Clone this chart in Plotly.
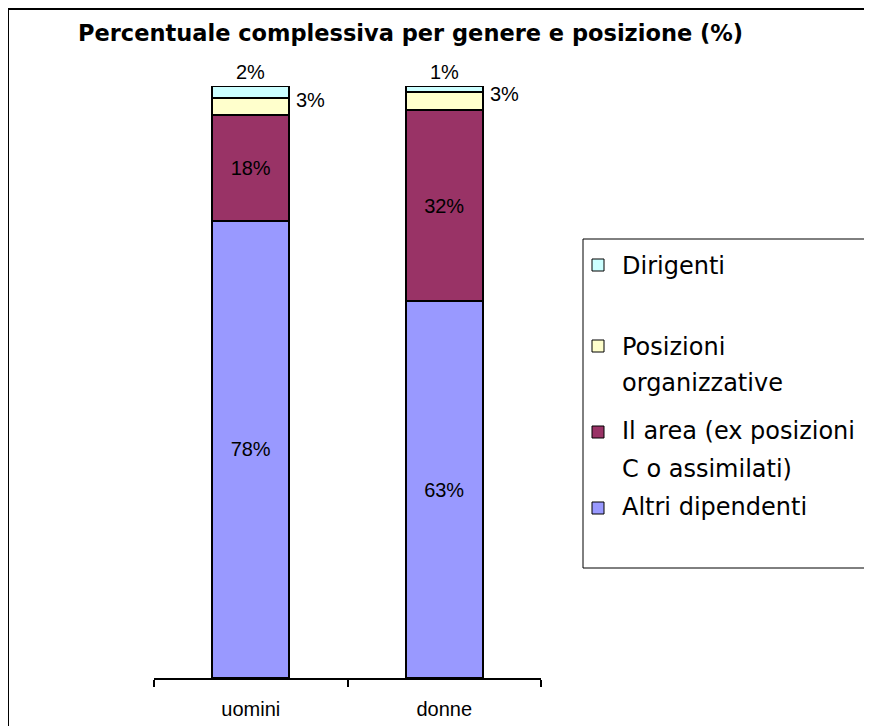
import plotly.graph_objects as go

# ---- data ----
categories = ["uomini", "donne"]
series_names = ["Altri dipendenti", "II area (ex posizioni C o assimilati)",
                "Posizioni organizzative", "Dirigenti"]
altri = [78, 63]
area2 = [18, 32]
posizioni = [3, 3]
dirigenti = [2, 1]
legend_lines = {
    "Dirigenti": ["Dirigenti"],
    "Posizioni organizzative": ["Posizioni", "organizzative"],
    "II area (ex posizioni C o assimilati)": ["Il area (ex posizioni", "C o assimilati)"],
    "Altri dipendenti": ["Altri dipendenti"],
}
title_text = "Percentuale complessiva per genere e posizione (%)"

colors = {
    "Altri dipendenti": "#9999FF",
    "II area (ex posizioni C o assimilati)": "#993366",
    "Posizioni organizzative": "#FFFFCC",
    "Dirigenti": "#CCFFFF",
}

# ---- layout geometry (screen coords, page body has an 8px margin) ----
OFF = 8
W, H = 872, 726
PLOT_L, PLOT_R, PLOT_T, PLOT_B = 154, 541, 86, 678   # screen pixels
ML = PLOT_L - OFF
MT = PLOT_T - OFF
PW = PLOT_R - PLOT_L
PH = PLOT_B - PLOT_T
MR = W - ML - PW
MB = H - MT - PH


def px(x):
    return (x - PLOT_L) / PW


def py(y):
    return (PLOT_B - y) / PH


LBL_FONT = dict(family="Liberation Sans, Arial, sans-serif", size=20, color="black")
LEG_FONT = dict(family="DejaVu Sans, sans-serif", size=24, color="black")

series_values = [altri, area2, posizioni, dirigenti]

fig = go.Figure()
for name, vals in zip(series_names, series_values):
    inside = name in ("Altri dipendenti", "II area (ex posizioni C o assimilati)")
    fig.add_trace(go.Bar(
        x=categories, y=vals, name=name,
        marker=dict(color=colors[name], line=dict(color="black", width=2)),
        text=[f"{v}%" for v in vals] if inside else None,
        textposition="inside" if inside else "none",
        insidetextanchor="middle",
        textangle=0,
        textfont=LBL_FONT,
        showlegend=False,
    ))

annotations = []
# outside labels for the small segments
for i, cat in enumerate(categories):
    total = altri[i] + area2[i] + posizioni[i] + dirigenti[i]
    base_pos = (altri[i] + area2[i]) / total * 100
    mid_pos = base_pos + posizioni[i] / total * 100 / 2
    annotations.append(dict(
        x=i, y=100, xref="x", yref="y", text=f"{dirigenti[i]}%",
        showarrow=False, xanchor="center", yanchor="bottom", yshift=1,
        font=LBL_FONT))
    annotations.append(dict(
        x=i + 0.2, y=mid_pos, xref="x", yref="y", text=f"{posizioni[i]}%",
        showarrow=False, xanchor="left", yanchor="middle", xshift=5, yshift=7,
        font=LBL_FONT))

# title
annotations.append(dict(
    x=px(76), y=py(33), xref="paper", yref="paper", text=f"<b>{title_text}</b>",
    showarrow=False, xanchor="left", yanchor="middle",
    font=dict(family="DejaVu Sans, sans-serif", size=22.5, color="black")))

shapes = []
# outer chart border
shapes.append(dict(type="rect", xref="paper", yref="paper",
                   x0=px(8), x1=px(900), y0=py(760), y1=py(9),
                   line=dict(color="black", width=2), fillcolor="rgba(0,0,0,0)"))
# legend box
shapes.append(dict(type="rect", xref="paper", yref="paper",
                   x0=px(583), x1=px(900), y0=py(568), y1=py(239),
                   line=dict(color="black", width=1), fillcolor="white"))

leg_order = ["Dirigenti", "Posizioni organizzative",
             "II area (ex posizioni C o assimilati)", "Altri dipendenti"]
sq_top = [259, 340, 426, 502]
line_ys = [[266], [347, 383], [431, 469], [507]]
for name, st, ys in zip(leg_order, sq_top, line_ys):
    shapes.append(dict(type="rect", xref="paper", yref="paper",
                       x0=px(592), x1=px(604), y0=py(st + 12), y1=py(st),
                       line=dict(color="black", width=1), fillcolor=colors[name]))
    for txt, yy in zip(legend_lines[name], ys):
        annotations.append(dict(
            x=px(620), y=py(yy), xref="paper", yref="paper", text=txt,
            showarrow=False, xanchor="left", yanchor="middle", font=LEG_FONT))

fig.update_layout(
    width=W, height=H,
    margin=dict(l=ML, r=MR, t=MT, b=MB, pad=0),
    paper_bgcolor="white", plot_bgcolor="white",
    barmode="stack", barnorm="percent", bargap=0.6,
    showlegend=False,
    annotations=annotations, shapes=shapes,
    xaxis=dict(type="category", range=[-0.5, 1.5], showline=True,
               linecolor="black", linewidth=1.5, ticks="outside",
               tickson="boundaries", ticklen=7, tickcolor="black", tickwidth=1.5,
               ticklabelstandoff=12,
               tickfont=dict(family="Liberation Sans, Arial, sans-serif", size=20,
                             color="black"),
               showgrid=False, zeroline=False, fixedrange=True),
    yaxis=dict(range=[0, 100], visible=False, showgrid=False, fixedrange=True),
    uniformtext=dict(minsize=8, mode="show"),
)

fig.write_html("out.html")
